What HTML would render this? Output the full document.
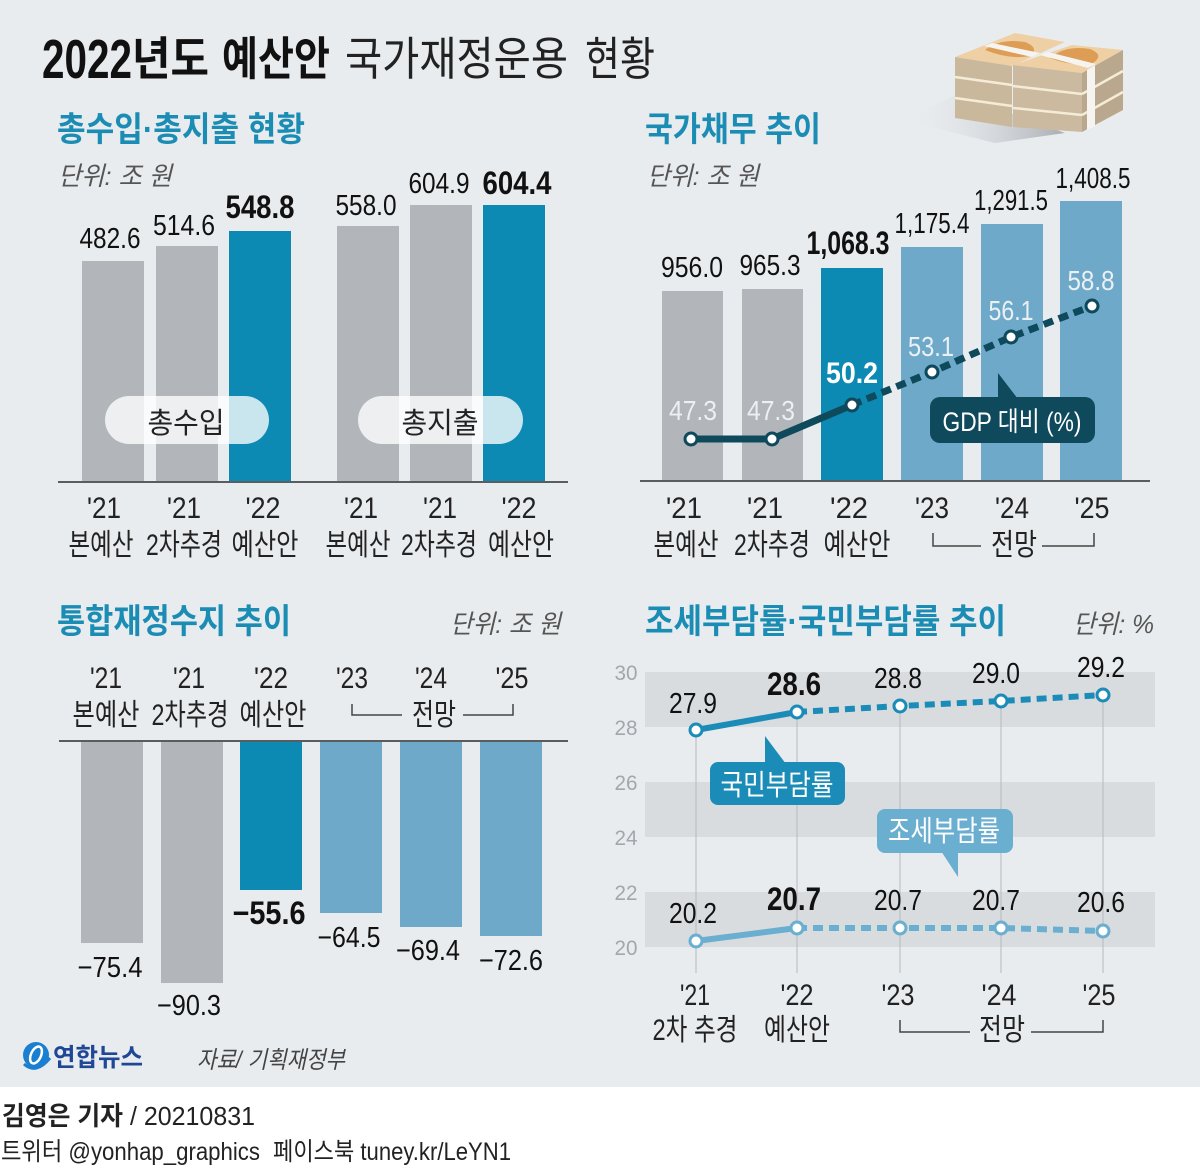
<!DOCTYPE html>
<html><head><meta charset="utf-8">
<style>
html,body{margin:0;padding:0;background:#fff;}
svg{display:block;}
text{font-family:"Liberation Sans","Noto Sans CJK KR",sans-serif;}
</style></head>
<body>
<svg width="1200" height="1170" viewBox="0 0 1200 1170" xmlns="http://www.w3.org/2000/svg">
<defs>
<linearGradient id="sh" x1="1" y1="0" x2="0" y2="0">
<stop offset="0" stop-color="#a9adb2"/><stop offset="1" stop-color="#e9ecef" stop-opacity="0"/>
</linearGradient>
</defs>
<rect x="0" y="0" width="1200" height="1087" fill="#e9ecef"/>

<!-- Title -->
<g fill="#111" font-weight="700">
<text x="42" y="78" font-size="55" textLength="90" lengthAdjust="spacingAndGlyphs">2022</text>
<text x="132" y="75" font-size="46" textLength="77" lengthAdjust="spacingAndGlyphs">년도</text>
<text x="222" y="75" font-size="46" textLength="108" lengthAdjust="spacingAndGlyphs">예산안</text>
</g>
<g fill="#222" font-weight="400">
<text x="345" y="75" font-size="46" textLength="223" lengthAdjust="spacingAndGlyphs">국가재정운용</text>
<text x="585" y="75" font-size="46" textLength="70" lengthAdjust="spacingAndGlyphs">현황</text>
</g>

<!-- Money icon -->
<polygon points="903,120 958,94 1065,133 995,143" fill="url(#sh)"/>
<polygon points="955,57 1015,33 1065,42 1012,66" fill="#eed0a4"/>
<path d="M985,50 Q1000,38 1025,42 Q1040,48 1030,56 Q1010,60 985,50 Z" fill="#dd9d55"/>
<polygon points="955,57 1012,66 1012,127 955,118" fill="#c9b89c"/>
<line x1="955" y1="77" x2="1012" y2="85" stroke="#f5ecd8" stroke-width="2.5"/>
<line x1="955" y1="98" x2="1012" y2="106" stroke="#f5ecd8" stroke-width="2.5"/>
<polygon points="984,46 992,43 1040,53 1032,57" fill="#f6f4f0"/>
<polygon points="1013,65 1072,45 1123,50 1082,73" fill="#eed0a4"/>
<path d="M1050,58 Q1065,45 1090,49 Q1105,55 1093,63 Q1072,67 1050,58 Z" fill="#dd9d55"/>
<polygon points="1013,65 1082,73 1082,132 1013,127" fill="#cbbaa0"/>
<polygon points="1082,73 1123,50 1123,110 1082,132" fill="#b9a88d"/>
<line x1="1013" y1="86" x2="1082" y2="94" stroke="#f5ecd8" stroke-width="2.5"/>
<line x1="1013" y1="108" x2="1082" y2="115" stroke="#f5ecd8" stroke-width="2.5"/>
<line x1="1082" y1="94" x2="1123" y2="71" stroke="#f5ecd8" stroke-width="2.5"/>
<line x1="1082" y1="115" x2="1123" y2="92" stroke="#f5ecd8" stroke-width="2.5"/>
<polygon points="1040,55 1048,52 1096,64 1088,68" fill="#f6f4f0"/>
<polygon points="1087,70 1095,65 1095,126 1087,130" fill="#f6f4f0"/>

<!-- ===== Top-left: 총수입·총지출 ===== -->
<text x="57" y="141" font-size="34" font-weight="700" fill="#1b8db4" textLength="248" lengthAdjust="spacingAndGlyphs">총수입·총지출 현황</text>
<text x="58" y="185" font-size="26" font-style="italic" fill="#555" textLength="114" lengthAdjust="spacingAndGlyphs">단위: 조 원</text>

<rect x="82" y="261" width="62" height="221" fill="#b2b5b9"/>
<rect x="156" y="246" width="62" height="236" fill="#b2b5b9"/>
<rect x="229" y="231" width="62" height="251" fill="#0c8ab3"/>
<rect x="337" y="226" width="62" height="256" fill="#b2b5b9"/>
<rect x="410" y="205" width="62" height="277" fill="#b2b5b9"/>
<rect x="483" y="205" width="62" height="277" fill="#0c8ab3"/>
<line x1="58" y1="482" x2="568" y2="482" stroke="#5a5d60" stroke-width="2"/>

<rect x="105" y="396" width="164" height="48" rx="24" fill="#fff" fill-opacity="0.78"/>
<rect x="358" y="396" width="165" height="48" rx="24" fill="#fff" fill-opacity="0.78"/>
<g fill="#222" text-anchor="middle" font-size="29">
<text x="186" y="433" textLength="77" lengthAdjust="spacingAndGlyphs">총수입</text>
<text x="440" y="433" textLength="77" lengthAdjust="spacingAndGlyphs">총지출</text>
</g>

<g fill="#111" text-anchor="middle" font-size="29">
<text x="110" y="248" textLength="61" lengthAdjust="spacingAndGlyphs">482.6</text>
<text x="184" y="235" textLength="62" lengthAdjust="spacingAndGlyphs">514.6</text>
<text x="260" y="218" font-size="32" font-weight="700" textLength="69" lengthAdjust="spacingAndGlyphs">548.8</text>
<text x="366" y="215" textLength="61" lengthAdjust="spacingAndGlyphs">558.0</text>
<text x="439" y="193" textLength="61" lengthAdjust="spacingAndGlyphs">604.9</text>
<text x="517" y="194" font-size="32" font-weight="700" textLength="69" lengthAdjust="spacingAndGlyphs">604.4</text>
</g>
<g fill="#222" text-anchor="middle" font-size="30">
<text x="104" y="518" textLength="34" lengthAdjust="spacingAndGlyphs">'21</text>
<text x="184" y="518" textLength="34" lengthAdjust="spacingAndGlyphs">'21</text>
<text x="263" y="518" textLength="35" lengthAdjust="spacingAndGlyphs">'22</text>
<text x="361" y="518" textLength="34" lengthAdjust="spacingAndGlyphs">'21</text>
<text x="440" y="518" textLength="34" lengthAdjust="spacingAndGlyphs">'21</text>
<text x="519" y="518" textLength="35" lengthAdjust="spacingAndGlyphs">'22</text>
</g>
<g fill="#222" text-anchor="middle" font-size="30">
<text x="101" y="555" textLength="65" lengthAdjust="spacingAndGlyphs">본예산</text>
<text x="184" y="555" textLength="76" lengthAdjust="spacingAndGlyphs">2차추경</text>
<text x="265" y="555" textLength="67" lengthAdjust="spacingAndGlyphs">예산안</text>
<text x="358" y="555" textLength="65" lengthAdjust="spacingAndGlyphs">본예산</text>
<text x="439" y="555" textLength="76" lengthAdjust="spacingAndGlyphs">2차추경</text>
<text x="521" y="555" textLength="66" lengthAdjust="spacingAndGlyphs">예산안</text>
</g>

<!-- ===== Top-right: 국가채무 ===== -->
<text x="645" y="141" font-size="34" font-weight="700" fill="#1b8db4" textLength="176" lengthAdjust="spacingAndGlyphs">국가채무 추이</text>
<text x="647" y="185" font-size="26" font-style="italic" fill="#555" textLength="112" lengthAdjust="spacingAndGlyphs">단위: 조 원</text>

<rect x="662" y="291" width="61" height="190" fill="#b2b5b9"/>
<rect x="742" y="289" width="61" height="192" fill="#b2b5b9"/>
<rect x="821" y="268" width="62" height="213" fill="#0c8ab3"/>
<rect x="901" y="247" width="62" height="234" fill="#6ea9c9"/>
<rect x="981" y="224" width="62" height="257" fill="#6ea9c9"/>
<rect x="1060" y="201" width="62" height="280" fill="#6ea9c9"/>
<line x1="640" y1="481" x2="1150" y2="481" stroke="#5a5d60" stroke-width="2"/>

<g fill="#111" text-anchor="middle" font-size="29">
<text x="692" y="277" textLength="62" lengthAdjust="spacingAndGlyphs">956.0</text>
<text x="770" y="275" textLength="61" lengthAdjust="spacingAndGlyphs">965.3</text>
<text x="848" y="254" font-size="32" font-weight="700" textLength="83" lengthAdjust="spacingAndGlyphs">1,068.3</text>
<text x="932" y="233" textLength="75" lengthAdjust="spacingAndGlyphs">1,175.4</text>
<text x="1011" y="210" textLength="74" lengthAdjust="spacingAndGlyphs">1,291.5</text>
<text x="1093" y="188" textLength="75" lengthAdjust="spacingAndGlyphs">1,408.5</text>
</g>

<polyline points="691,439 772,439 852,405" fill="none" stroke="#0e4a5c" stroke-width="7"/>
<polyline points="852,405 932,372 1011,337 1092,306" fill="none" stroke="#0e4a5c" stroke-width="7" stroke-dasharray="10 6"/>
<g fill="#fff" stroke="#0e4a5c" stroke-width="3">
<circle cx="691" cy="439" r="6"/><circle cx="772" cy="439" r="6"/><circle cx="852" cy="405" r="6"/>
<circle cx="932" cy="372" r="6"/><circle cx="1011" cy="337" r="6"/><circle cx="1092" cy="306" r="6"/>
</g>
<g fill="#eaf0f4" text-anchor="middle" font-size="28">
<text x="693" y="420" textLength="48" lengthAdjust="spacingAndGlyphs">47.3</text>
<text x="771" y="420" textLength="48" lengthAdjust="spacingAndGlyphs">47.3</text>
<text x="852" y="383" fill="#fff" font-size="30" font-weight="700" textLength="52" lengthAdjust="spacingAndGlyphs">50.2</text>
<text x="931" y="356" textLength="46" lengthAdjust="spacingAndGlyphs">53.1</text>
<text x="1011" y="320" textLength="45" lengthAdjust="spacingAndGlyphs">56.1</text>
<text x="1091" y="290" textLength="47" lengthAdjust="spacingAndGlyphs">58.8</text>
</g>
<rect x="930" y="397" width="165" height="46" rx="10" fill="#0e4a5c"/>
<polygon points="998,373 998,399 1018,399" fill="#0e4a5c"/>
<text x="1012" y="431" text-anchor="middle" font-size="27" fill="#fff" textLength="139" lengthAdjust="spacingAndGlyphs">GDP 대비 (%)</text>

<g fill="#222" text-anchor="middle" font-size="30">
<text x="684" y="518" textLength="36" lengthAdjust="spacingAndGlyphs">'21</text>
<text x="765" y="518" textLength="36" lengthAdjust="spacingAndGlyphs">'21</text>
<text x="849" y="518" textLength="38" lengthAdjust="spacingAndGlyphs">'22</text>
<text x="932" y="518" textLength="34" lengthAdjust="spacingAndGlyphs">'23</text>
<text x="1012" y="518" textLength="34" lengthAdjust="spacingAndGlyphs">'24</text>
<text x="1092" y="518" textLength="35" lengthAdjust="spacingAndGlyphs">'25</text>
<text x="686" y="555" textLength="65" lengthAdjust="spacingAndGlyphs">본예산</text>
<text x="772" y="555" textLength="76" lengthAdjust="spacingAndGlyphs">2차추경</text>
<text x="857" y="555" textLength="67" lengthAdjust="spacingAndGlyphs">예산안</text>
<text x="1014" y="555" textLength="46" lengthAdjust="spacingAndGlyphs">전망</text>
</g>
<path d="M933,533 V546 H981 M1042,546 H1094 V533" fill="none" stroke="#444" stroke-width="1.5"/>

<!-- ===== Bottom-left: 통합재정수지 ===== -->
<text x="57" y="633" font-size="34" font-weight="700" fill="#1b8db4" textLength="234" lengthAdjust="spacingAndGlyphs">통합재정수지 추이</text>
<text x="450" y="633" font-size="26" font-style="italic" fill="#555" textLength="111" lengthAdjust="spacingAndGlyphs">단위: 조 원</text>
<g fill="#222" text-anchor="middle" font-size="30">
<text x="106" y="688" textLength="32" lengthAdjust="spacingAndGlyphs">'21</text>
<text x="189" y="688" textLength="32" lengthAdjust="spacingAndGlyphs">'21</text>
<text x="271" y="688" textLength="34" lengthAdjust="spacingAndGlyphs">'22</text>
<text x="352" y="688" textLength="32" lengthAdjust="spacingAndGlyphs">'23</text>
<text x="431" y="688" textLength="32" lengthAdjust="spacingAndGlyphs">'24</text>
<text x="512" y="688" textLength="33" lengthAdjust="spacingAndGlyphs">'25</text>
<text x="106" y="725" textLength="67" lengthAdjust="spacingAndGlyphs">본예산</text>
<text x="190" y="725" textLength="77" lengthAdjust="spacingAndGlyphs">2차추경</text>
<text x="273" y="725" textLength="67" lengthAdjust="spacingAndGlyphs">예산안</text>
<text x="434" y="725" textLength="44" lengthAdjust="spacingAndGlyphs">전망</text>
</g>
<path d="M352,704 V715 H402 M463,715 H513 V704" fill="none" stroke="#444" stroke-width="1.5"/>

<rect x="81" y="741" width="62" height="202" fill="#b2b5b9"/>
<rect x="161" y="741" width="62" height="242" fill="#b2b5b9"/>
<rect x="240" y="741" width="62" height="149" fill="#0c8ab3"/>
<rect x="320" y="741" width="62" height="172" fill="#6ea9c9"/>
<rect x="400" y="741" width="62" height="186" fill="#6ea9c9"/>
<rect x="480" y="741" width="62" height="195" fill="#6ea9c9"/>
<line x1="59" y1="741" x2="568" y2="741" stroke="#5a5d60" stroke-width="2"/>
<g fill="#111" text-anchor="middle" font-size="29">
<text x="110" y="977" textLength="65" lengthAdjust="spacingAndGlyphs">−75.4</text>
<text x="189" y="1015" textLength="64" lengthAdjust="spacingAndGlyphs">−90.3</text>
<text x="269" y="924" font-size="32" font-weight="700" textLength="73" lengthAdjust="spacingAndGlyphs">−55.6</text>
<text x="349" y="947" textLength="63" lengthAdjust="spacingAndGlyphs">−64.5</text>
<text x="428" y="960" textLength="64" lengthAdjust="spacingAndGlyphs">−69.4</text>
<text x="511" y="970" textLength="64" lengthAdjust="spacingAndGlyphs">−72.6</text>
</g>

<!-- ===== Bottom-right: 조세부담률·국민부담률 ===== -->
<text x="645" y="633" font-size="34" font-weight="700" fill="#1b8db4" textLength="361" lengthAdjust="spacingAndGlyphs">조세부담률·국민부담률 추이</text>
<text x="1073" y="633" font-size="26" font-style="italic" fill="#555" textLength="81" lengthAdjust="spacingAndGlyphs">단위: %</text>

<rect x="645" y="672" width="510" height="55" fill="#d9dcdf"/>
<rect x="645" y="782" width="510" height="55" fill="#d9dcdf"/>
<rect x="645" y="892" width="510" height="55" fill="#d9dcdf"/>
<g fill="#a3a7ab" text-anchor="middle" font-size="21">
<text x="626" y="680" textLength="23" lengthAdjust="spacingAndGlyphs">30</text>
<text x="626" y="735" textLength="23" lengthAdjust="spacingAndGlyphs">28</text>
<text x="626" y="790" textLength="23" lengthAdjust="spacingAndGlyphs">26</text>
<text x="626" y="845" textLength="23" lengthAdjust="spacingAndGlyphs">24</text>
<text x="626" y="900" textLength="23" lengthAdjust="spacingAndGlyphs">22</text>
<text x="626" y="955" textLength="23" lengthAdjust="spacingAndGlyphs">20</text>
</g>
<g stroke="#b5b9bd" stroke-width="1">
<line x1="696" y1="730" x2="696" y2="973"/>
<line x1="797" y1="712" x2="797" y2="973"/>
<line x1="900" y1="706" x2="900" y2="973"/>
<line x1="1001" y1="701" x2="1001" y2="973"/>
<line x1="1103" y1="695" x2="1103" y2="973"/>
</g>

<polyline points="696,730 797,712" fill="none" stroke="#1b8cb8" stroke-width="6"/>
<polyline points="797,712 900,706 1001,701 1103,695" fill="none" stroke="#1b8cb8" stroke-width="6" stroke-dasharray="10 6"/>
<g fill="#fff" stroke="#1b8cb8" stroke-width="3">
<circle cx="696" cy="730" r="6"/><circle cx="797" cy="712" r="6"/><circle cx="900" cy="706" r="6"/>
<circle cx="1001" cy="701" r="6"/><circle cx="1103" cy="695" r="6"/>
</g>
<polyline points="696,941 797,928" fill="none" stroke="#6aaed0" stroke-width="6"/>
<polyline points="797,928 900,928 1001,928 1103,931" fill="none" stroke="#6aaed0" stroke-width="6" stroke-dasharray="10 6"/>
<g fill="#fff" stroke="#6aaed0" stroke-width="3">
<circle cx="696" cy="941" r="6"/><circle cx="797" cy="928" r="6"/><circle cx="900" cy="928" r="6"/>
<circle cx="1001" cy="928" r="6"/><circle cx="1103" cy="931" r="6"/>
</g>

<g fill="#111" text-anchor="middle" font-size="29">
<text x="693" y="713" textLength="48" lengthAdjust="spacingAndGlyphs">27.9</text>
<text x="794" y="695" font-size="32" font-weight="700" textLength="54" lengthAdjust="spacingAndGlyphs">28.6</text>
<text x="898" y="688" textLength="48" lengthAdjust="spacingAndGlyphs">28.8</text>
<text x="996" y="683" textLength="48" lengthAdjust="spacingAndGlyphs">29.0</text>
<text x="1101" y="677" textLength="48" lengthAdjust="spacingAndGlyphs">29.2</text>
<text x="693" y="923" textLength="48" lengthAdjust="spacingAndGlyphs">20.2</text>
<text x="794" y="910" font-size="32" font-weight="700" textLength="54" lengthAdjust="spacingAndGlyphs">20.7</text>
<text x="898" y="910" textLength="48" lengthAdjust="spacingAndGlyphs">20.7</text>
<text x="996" y="910" textLength="48" lengthAdjust="spacingAndGlyphs">20.7</text>
<text x="1101" y="912" textLength="48" lengthAdjust="spacingAndGlyphs">20.6</text>
</g>

<rect x="710" y="762" width="135" height="43" rx="8" fill="#1b8cb8"/>
<polygon points="765,736 765,764 786,764" fill="#1b8cb8"/>
<text x="777" y="795" text-anchor="middle" font-size="29" fill="#fff" textLength="113" lengthAdjust="spacingAndGlyphs">국민부담률</text>
<rect x="877" y="809" width="136" height="44" rx="8" fill="#6aaed0"/>
<polygon points="941,851 958,877 958,851" fill="#6aaed0"/>
<text x="944" y="841" text-anchor="middle" font-size="29" fill="#fff" textLength="112" lengthAdjust="spacingAndGlyphs">조세부담률</text>

<g fill="#222" text-anchor="middle" font-size="30">
<text x="695" y="1005" textLength="30" lengthAdjust="spacingAndGlyphs">'21</text>
<text x="797" y="1005" textLength="33" lengthAdjust="spacingAndGlyphs">'22</text>
<text x="898" y="1005" textLength="33" lengthAdjust="spacingAndGlyphs">'23</text>
<text x="999" y="1005" textLength="35" lengthAdjust="spacingAndGlyphs">'24</text>
<text x="1099" y="1005" textLength="33" lengthAdjust="spacingAndGlyphs">'25</text>
<text x="695" y="1040" textLength="85" lengthAdjust="spacingAndGlyphs">2차 추경</text>
<text x="797" y="1040" textLength="66" lengthAdjust="spacingAndGlyphs">예산안</text>
<text x="1002" y="1040" textLength="46" lengthAdjust="spacingAndGlyphs">전망</text>
</g>
<path d="M900,1020 V1032 H970 M1031,1032 H1103 V1020" fill="none" stroke="#444" stroke-width="1.5"/>

<!-- Footer in panel -->
<circle cx="36" cy="1055" r="13" fill="#1a7fd0"/>
<ellipse cx="36" cy="1055" rx="5" ry="9" fill="none" stroke="#fff" stroke-width="2.5" transform="rotate(25 36 1055)"/>
<path d="M24,1064 Q36,1075 50,1058" fill="none" stroke="#1a7fd0" stroke-width="3"/>
<text x="53" y="1066" font-size="25" font-weight="700" fill="#1f4796" textLength="90" lengthAdjust="spacingAndGlyphs">연합뉴스</text>
<text x="197" y="1068" font-size="24" font-style="italic" fill="#444" textLength="148" lengthAdjust="spacingAndGlyphs">자료/ 기획재정부</text>

<!-- White footer -->
<text x="2" y="1125" font-size="26" font-weight="700" fill="#222" textLength="121" lengthAdjust="spacingAndGlyphs">김영은 기자</text>
<text x="130" y="1125" font-size="26" fill="#222" textLength="125" lengthAdjust="spacingAndGlyphs">/ 20210831</text>
<text x="1" y="1160" font-size="25" fill="#222" textLength="259" lengthAdjust="spacingAndGlyphs">트위터 @yonhap_graphics</text>
<text x="273" y="1160" font-size="25" fill="#222" textLength="238" lengthAdjust="spacingAndGlyphs">페이스북 tuney.kr/LeYN1</text>
</svg>
</body></html>
